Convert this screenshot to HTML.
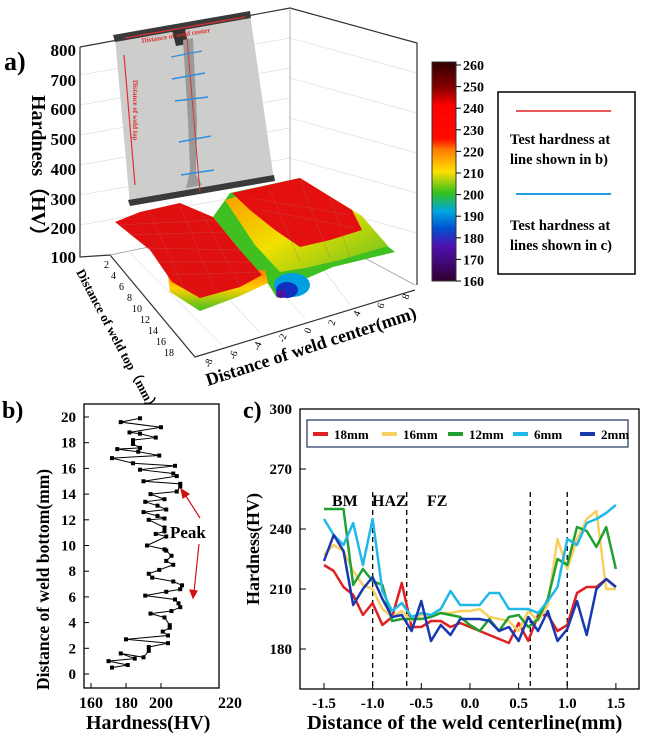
<!DOCTYPE html>
<html><head><meta charset="utf-8"><style>
body{margin:0;background:#fff;}
svg{display:block;font-family:"Liberation Serif",serif;font-weight:bold;}
</style></head><body>
<svg id="fig" width="646" height="739" viewBox="0 0 646 739">
<defs>
<linearGradient id="cb" x1="0" y1="0" x2="0" y2="1">
<stop offset="0" stop-color="#300000"/><stop offset="0.12" stop-color="#8a0000"/><stop offset="0.2" stop-color="#ff0000"/><stop offset="0.35" stop-color="#ff0a00"/><stop offset="0.4" stop-color="#ff7a00"/><stop offset="0.5" stop-color="#ffe000"/><stop offset="0.6" stop-color="#30c020"/><stop offset="0.68" stop-color="#00a8e0"/><stop offset="0.76" stop-color="#0050d0"/><stop offset="0.84" stop-color="#5010b0"/><stop offset="1" stop-color="#300030"/>
</linearGradient>
<linearGradient id="band" x1="0" y1="0" x2="0" y2="1"><stop offset="0" stop-color="#ff8000"/><stop offset="0.45" stop-color="#ffd000"/><stop offset="1" stop-color="#40c020"/></linearGradient>
<linearGradient id="band2" x1="0" y1="0" x2="1" y2="1"><stop offset="0" stop-color="#ff9000"/><stop offset="0.5" stop-color="#f0e000"/><stop offset="1" stop-color="#60c020"/></linearGradient>
</defs>

<!-- Panel a -->
<g>
<text x="4" y="70" font-size="26">a)</text>
<g stroke="#e2e2e2" stroke-width="0.8" fill="none">
<path d="M80,75 L290,38 M80,105 L290,68 M80,135 L290,98 M80,165 L290,128 M80,195 L290,158 M80,225 L290,188"/>
<path d="M290,38 L417,73 M290,78 L417,113 M290,118 L417,153 M290,158 L417,193 M290,198 L417,233"/>
<path d="M130,253 L222,345 M180,245 L260,333 M230,237 L305,318 M290,225 L350,305"/>
</g>
<g stroke="#333" stroke-width="1.2" fill="none">
<path d="M80,47 L290,8 L417,43 L417,285"/>
<path d="M290,8 L290,218" stroke="#999" stroke-width="0.8"/>
<path d="M80,47 L80,257 L110,255 L195,357 L415,290"/>
<path d="M110,255 L290,218 L415,285" stroke="#999" stroke-width="0.8"/>
</g>
<g font-size="17" text-anchor="end">
<text x="76" y="56">800</text><text x="76" y="86">700</text><text x="76" y="115">600</text><text x="76" y="145">500</text><text x="76" y="175">400</text><text x="76" y="205">300</text><text x="76" y="234">200</text><text x="76" y="263">100</text>
</g>
<text transform="translate(32,95) rotate(90)" font-size="20">Hardness（HV）</text>
<!-- photo -->
<g>
<polygon points="115,38 250,14 274,180 130,205" fill="#cdcdcb"/>
<polygon points="113,35 250,11 251,18 115,42" fill="#3a3a3a"/>
<polygon points="128,200 274,175 275,181 130,206" fill="#3a3a3a"/>
<polygon points="172,30 185,28 188,44 176,46" fill="#333"/>
<polygon points="183,40 193,38 197,120 196,175 202,185 186,188 190,170 188,120" fill="#9a9a9a"/>
<line x1="187" y1="38" x2="200" y2="192" stroke="#e03030" stroke-width="1"/>
<line x1="124" y1="55" x2="135" y2="185" stroke="#e03030" stroke-width="1.2"/>
<line x1="125" y1="38" x2="245" y2="17" stroke="#e03030" stroke-width="1.2"/>
<g stroke="#2e8ee0" stroke-width="1.4"><line x1="171" y1="57" x2="202" y2="51"/><line x1="172" y1="79" x2="205" y2="73"/><line x1="175" y1="101" x2="208" y2="97"/><line x1="179" y1="142" x2="211" y2="136"/><line x1="181" y1="175" x2="214" y2="170"/></g>
<text transform="translate(142,43) rotate(-9)" font-size="7" fill="#e03030">Distance of weld center</text>
<text transform="translate(133,80) rotate(90)" font-size="7" fill="#e03030">Distance of weld top</text>
</g>
<!-- surface -->
<g>
<polygon points="213,217 230,193 300,178 395,252 333,267 303,280 277,298 267,282 240,250" fill="#40c020"/>
<polygon points="225,200 300,178 362,216 388,246 340,260 305,268 280,272 255,245" fill="url(#band2)"/>
<polygon points="232,193 300,178 352,210 362,230 330,240 300,247 275,230 250,210" fill="#e41010"/>
<ellipse cx="292" cy="285" rx="18" ry="12" fill="#00a0e0"/>
<ellipse cx="287" cy="290" rx="11" ry="8" fill="#1030c0"/>
<ellipse cx="281" cy="294" rx="5" ry="4" fill="#5010a0"/>
<polygon points="168,276 265,270 268,283 240,296 200,311 170,292" fill="url(#band)"/>
<polygon points="115,222 140,212 180,203 213,217 240,250 262,275 240,287 200,298 172,282 150,250" fill="#e01010"/>
<g stroke="#b06060" stroke-width="0.4" fill="none" opacity="0.7">
<path d="M120,225 L215,220 M130,235 L225,232 M145,248 L240,250 M160,262 L252,262 M172,275 L260,272 M150,214 L185,290 M180,206 L215,290 M200,210 L240,285"/>
<path d="M250,198 L350,215 M262,210 L355,228 M270,190 L300,262 M300,180 L330,258 M330,196 L350,258"/>
</g>
</g>
<g font-size="10" font-weight="normal">
<text x="104" y="268">2</text><text x="111" y="279">4</text><text x="119" y="290">6</text><text x="127" y="301">8</text><text x="132" y="312">10</text><text x="140" y="323">12</text><text x="148" y="334">14</text><text x="156" y="345">16</text><text x="164" y="356">18</text>
</g>
<text transform="translate(76,272) rotate(62)" font-size="13">Distance of weld top（mm）</text>
<g font-size="10" font-weight="normal">
<text transform="translate(210,368) rotate(-70)">-8</text><text transform="translate(235,360) rotate(-70)">-6</text><text transform="translate(259,351) rotate(-70)">-4</text><text transform="translate(284,343) rotate(-70)">-2</text><text transform="translate(310,334) rotate(-70)">0</text><text transform="translate(334,326) rotate(-70)">2</text><text transform="translate(359,317) rotate(-70)">4</text><text transform="translate(383,309) rotate(-70)">6</text><text transform="translate(408,300) rotate(-70)">8</text>
</g>
<text transform="translate(208,386) rotate(-18)" font-size="18">Distance of weld center(mm)</text>
<!-- colorbar -->
<rect x="432" y="62" width="24" height="219" fill="url(#cb)" stroke="#333" stroke-width="1"/>
<g font-size="14" id="cbt"></g>
<!-- legend -->
<g>
<rect x="498" y="92" width="137" height="182" fill="#fff" stroke="#000" stroke-width="1.5"/>
<line x1="516" y1="111" x2="611" y2="111" stroke="#e02020" stroke-width="1.5"/>
<text x="510" y="144" font-size="14.5">Test hardness at</text><text x="510" y="164" font-size="14.5">line shown in b)</text>
<line x1="516" y1="194" x2="611" y2="194" stroke="#20a0e0" stroke-width="2"/>
<text x="510" y="230" font-size="14.5">Test hardness at</text><text x="510" y="250" font-size="14.5">lines shown in c)</text>
</g>
</g>

<!-- Panel b -->
<g id="pb">
<text x="2" y="418" font-size="24">b)</text>
<rect x="84" y="404" width="135" height="284" fill="none" stroke="#000" stroke-width="1.3"/>
<text transform="translate(49,690) rotate(-90)" font-size="17.5">Distance of weld bottom(mm)</text>
<text x="86" y="729" font-size="20">Hardness(HV)</text>
<text x="170" y="538" font-size="17">Peak</text>
<g stroke="#d01010" stroke-width="1.2" fill="#d01010">
<line x1="200" y1="518" x2="184" y2="493"/><polygon points="181,489 189,494 183,498"/>
<line x1="199" y1="544" x2="194" y2="592"/><polygon points="193,598 190,590 197,591"/>
</g>
</g>

<!-- Panel c -->
<g id="pc">
<text x="243" y="418" font-size="24">c)</text>
<rect x="300" y="409" width="339" height="280" fill="none" stroke="#000" stroke-width="1.3"/>
<text transform="translate(259,605) rotate(-90)" font-size="18">Hardness(HV)</text>
<text x="307" y="729" font-size="20.5">Distance of the weld centerline(mm)</text>
<g font-size="16"><text x="332" y="506">BM</text><text x="372" y="506">HAZ</text><text x="427" y="506">FZ</text></g>
<rect x="307" y="420" width="321" height="27" fill="#fff" stroke="#203060" stroke-width="1.2"/>
</g>
<script>
var NS="http://www.w3.org/2000/svg";
function mk(t,a,p){var e=document.createElementNS(NS,t);for(var k in a)e.setAttribute(k,a[k]);p.appendChild(e);return e;}
var cbTicks=[260,250,240,230,220,210,200,190,180,170,160];
var cbt=document.getElementById('cbt');
cbTicks.forEach(function(v){var y=65+(260-v)*2.16;
var l=mk('line',{x1:456,x2:461,y1:y,y2:y,stroke:'#000'},cbt);


var t=mk('text',{x:463,y:y+5},cbt);t.textContent=v;

});
</script>
<script>
var bHardness=[188,177,200,182,188,197,184,184,188,175,187,199,172,184,208,188,207,209,190,211,211,209,194,202,191,198,203,190,198,202,193,202,202,197,203,192,202,203,206,203,207,199,193,195,207,212,211,203,191,208,210,211,206,194,202,205,205,201,204,180,204,193,193,190,177,185,170,181,172];
var bDistance=[19.9,19.6,19.2,18.8,18.7,18.4,18.2,17.9,17.6,17.5,17.3,17.0,16.8,16.4,16.2,15.9,15.6,15.4,15.0,14.8,14.6,14.2,14.0,13.6,13.4,13.1,12.8,12.6,12.3,12.1,12.0,11.4,11.1,10.9,10.7,10.0,9.7,9.6,9.2,8.8,8.5,8.1,7.8,7.5,7.2,6.9,6.6,6.4,6.1,5.8,5.5,5.2,4.9,4.7,4.4,3.8,3.6,3.3,3.0,2.7,2.4,2.1,1.8,1.3,1.6,1.2,1.0,0.7,0.5];
var bXTicks=[160,180,200];
var bYTicks=[0,2,4,6,8,10,12,14,16,18,20];
function bx(v){return 91+(v-160)*1.75;}
function by(v){return 674-v*12.85;}
(function(){var g=document.getElementById('pb');
bYTicks.forEach(function(v){var y=by(v);
var l=mk('line',{x1:84,x2:89,y1:y,y2:y,stroke:'#000'},g);


var t=mk('text',{x:76,y:y+5,'text-anchor':'end','font-size':15},g);t.textContent=v;

});
bXTicks.concat([220]).forEach(function(v,i){var x=bx(v);
if(v<220){var l=mk('line',{x1:x,x2:x,y1:688,y2:683,stroke:'#000'},g);

}
var t=mk('text',{x:v<220?x:230,y:708,'text-anchor':'middle','font-size':16},g);t.textContent=v;

});
var d=bHardness.map(function(h,i){return (i?'L':'M')+bx(h)+','+by(bDistance[i]);}).join(' ');
var p=mk('path',{d:d,fill:'none',stroke:'#000','stroke-width':1},g);


bHardness.forEach(function(h,i){var r=mk('rect',{x:bx(h)-2,y:by(bDistance[i])-2,width:4,height:4,fill:'#000'},g);

});
})();
</script>
<script>
var cX=[-1.5,-1.4,-1.3,-1.2,-1.1,-1.0,-0.9,-0.8,-0.7,-0.6,-0.5,-0.4,-0.3,-0.2,-0.1,0,0.1,0.2,0.3,0.4,0.5,0.6,0.7,0.8,0.9,1.0,1.1,1.2,1.3,1.4,1.5];
var s18=[222,219,211,207,197,203,192,196,213,191,191,194,194,191,193,191,189,187,185,183,193,184,197,197,189,192,208,211,211,215,211];
var s16=[227,232,229,219,212,210,200,196,199,194,197,197,198,198,199,199,200,196,195,194,189,199,194,202,235,220,235,245,249,210,210];
var s12=[250,250,250,212,220,214,212,194,195,195,195,196,198,197,196,192,189,195,189,196,197,191,195,205,225,222,241,239,231,241,220];
var s6=[245,237,232,243,222,245,209,199,203,196,198,197,200,209,202,202,202,208,208,200,200,200,198,204,211,235,232,243,245,248,252];
var s2=[224,237,229,202,210,216,205,196,197,189,204,184,192,187,195,195,195,194,189,191,184,196,189,199,184,190,204,187,210,215,211];
var cSeriesNames=['18mm','16mm','12mm','6mm','2mm'];
var cColors=['#e02020','#f8d060','#20a030','#20b8e8','#1838b0'];
var cYTicks=[180,210,240,270,300];
var cXTicks=[-1.5,-1.0,-0.5,0.0,0.5,1.0,1.5];
var cZones=[-1.0,-0.65,0.62,1.0];
function cx(v){return 324+(v+1.5)*97.3;}
function cy(v){return 409+(300-v)*2;}
(function(){var g=document.getElementById('pc');
cYTicks.forEach(function(v){var y=cy(v);
var l=mk('line',{x1:300,x2:306,y1:y,y2:y,stroke:'#000'},g);


var t=mk('text',{x:292,y:y+5,'text-anchor':'end','font-size':15},g);t.textContent=v;

});
cXTicks.forEach(function(v){var x=cx(v);
var l=mk('line',{x1:x,x2:x,y1:689,y2:683,stroke:'#000'},g);


var t=mk('text',{x:x,y:708,'text-anchor':'middle','font-size':15},g);t.textContent=v.toFixed(1);

});
cZones.forEach(function(v){var x=cx(v);
var l=mk('line',{x1:x,x2:x,y1:492,y2:689,stroke:'#000','stroke-dasharray':'5,4','stroke-width':1.3},g);

});
var all=[s18,s16,s12,s6,s2];
all.forEach(function(s,k){var d=s.map(function(v,i){return (i?'L':'M')+cx(cX[i]).toFixed(1)+','+cy(v);}).join(' ');
var p=mk('path',{d:d,fill:'none',stroke:cColors[k],'stroke-width':2.5,'stroke-linejoin':'round'},g);

});
var lx=[313,382,448,513,580];
cSeriesNames.forEach(function(n,k){
var l=mk('line',{x1:lx[k],x2:lx[k]+15,y1:434,y2:434,stroke:cColors[k],'stroke-width':4},g);


var t=mk('text',{x:lx[k]+21,y:439,'font-size':13},g);t.textContent=n;

});
})();
</script>
</svg>
</body></html>
